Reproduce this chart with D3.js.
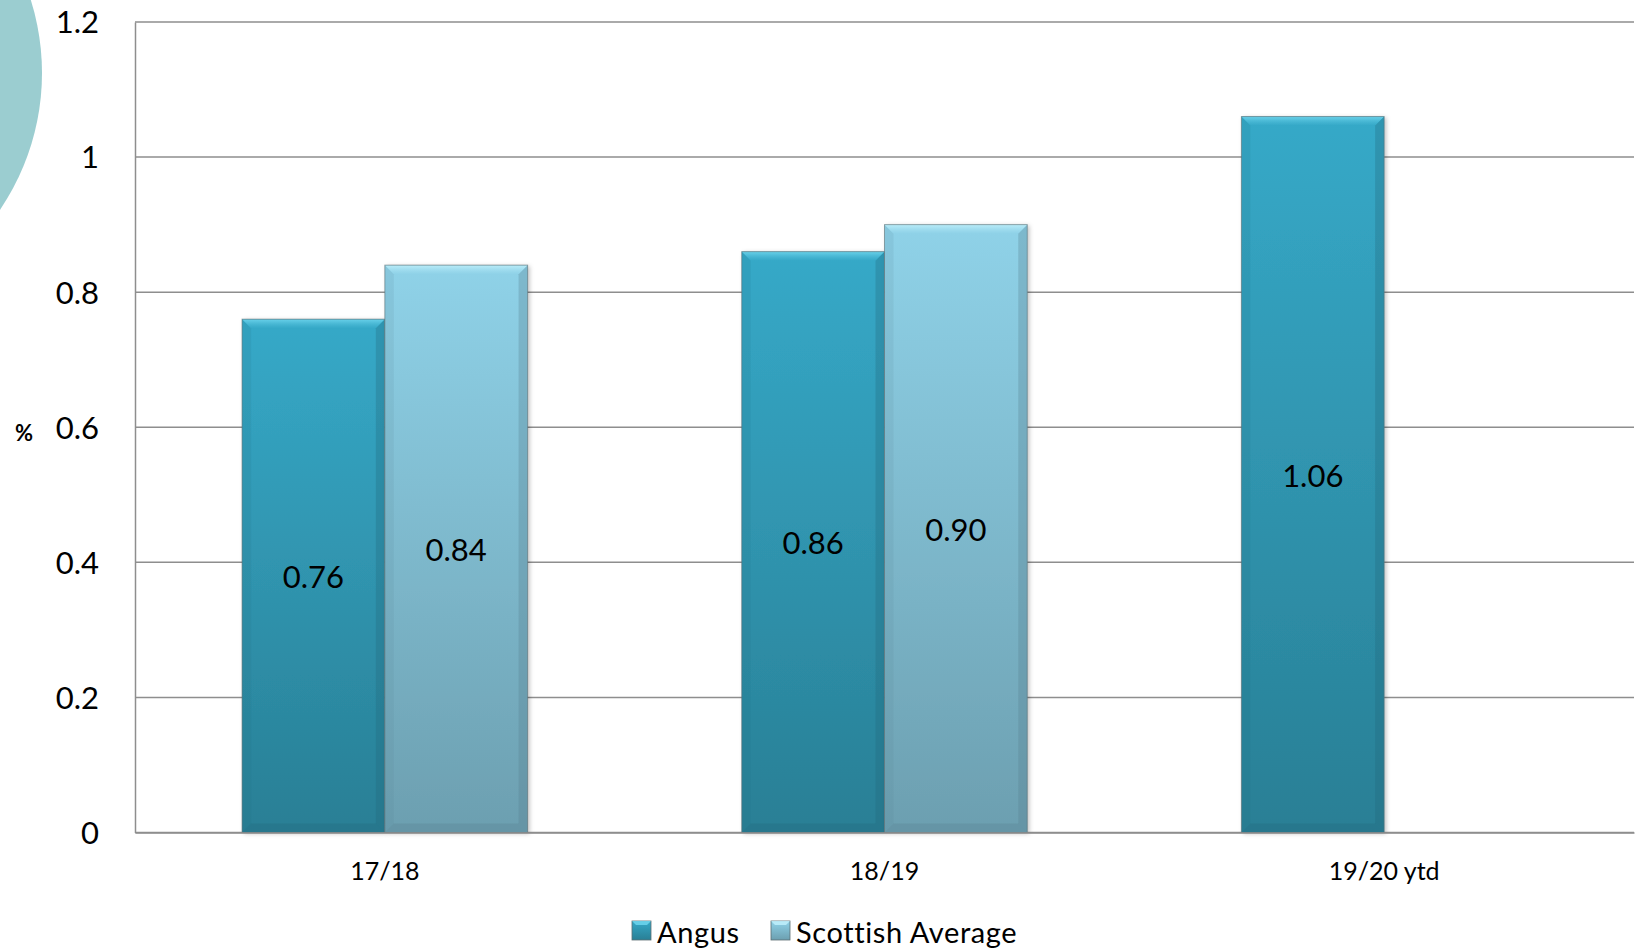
<!DOCTYPE html>
<html>
<head>
<meta charset="utf-8">
<script src="https://cdn.jsdelivr.net/npm/d3@7"></script>
<style>
  html, body { margin: 0; padding: 0; background: #ffffff; }
  svg { display: block; font-family: Lato, "Open Sans", sans-serif; }
</style>
</head>
<body>
<svg id="chart" width="1640" height="949"></svg>
<script>
const categories = ["17/18", "18/19", "19/20 ytd"];
const seriesNames = ["Angus", "Scottish Average"];
const angusValues = [0.76, 0.86, 1.06];
const scottishValues = [0.84, 0.90, null];
const yTicks = [0, 0.2, 0.4, 0.6, 0.8, 1, 1.2];
const yTickLabels = ["0", "0.2", "0.4", "0.6", "0.8", "1", "1.2"];
const labelTexts = [["0.76", "0.84"], ["0.86", "0.90"], ["1.06", null]];

const svg = d3.select("#chart");
const W = 1640, H = 949;
const margin = { left: 135, right: 6, top: 22, bottom: 116.5 };
const plotL = margin.left, plotR = W - margin.right;
const plotT = margin.top, plotB = H - margin.bottom;

// decorative circle at top-left
svg.append("circle").attr("cx", -202).attr("cy", 73).attr("r", 244).attr("fill", "#9bcdd0");

const x = d3.scaleBand().domain(categories).range([plotL, plotR]).paddingInner(0).paddingOuter(0);
const inner = d3.scaleBand().domain(seriesNames).range([0, x.bandwidth()]).paddingInner(0).paddingOuter(0.75);
const y = d3.scaleLinear().domain([0, 1.2]).range([plotB, plotT]);

const defs = svg.append("defs");
const grads = {
  "Angus": { top: "#36a9c8", bottom: "#297f95", bevel: "#6fd6ee", side: "#21687a" },
  "Scottish Average": { top: "#8fd2e8", bottom: "#6c9fb0", bevel: "#bff0fb", side: "#557f8d" }
};
Object.entries(grads).forEach(([k, c], i) => {
  const g = defs.append("linearGradient").attr("id", "g" + i).attr("x1", 0).attr("y1", 0).attr("x2", 0).attr("y2", 1);
  g.append("stop").attr("offset", "0%").attr("stop-color", c.top);
  g.append("stop").attr("offset", "100%").attr("stop-color", c.bottom);
  c.id = "g" + i;
  const b = defs.append("linearGradient").attr("id", "b" + i).attr("x1", 0).attr("y1", 0).attr("x2", 0).attr("y2", 1);
  b.append("stop").attr("offset", "0%").attr("stop-color", c.bevel).attr("stop-opacity", 1);
  b.append("stop").attr("offset", "100%").attr("stop-color", c.top).attr("stop-opacity", 0.6);
  c.bid = "b" + i;
});
const sh = defs.append("filter").attr("id", "shadow").attr("x", "-10%").attr("y", "-10%").attr("width", "130%").attr("height", "130%");
sh.append("feDropShadow").attr("dx", 2).attr("dy", 1).attr("stdDeviation", 2).attr("flood-color", "#000").attr("flood-opacity", 0.25);

// gridlines
const grid = svg.append("g");
grid.selectAll("line").data(yTicks).join("line")
  .attr("x1", plotL).attr("x2", plotR)
  .attr("y1", d => y(d)).attr("y2", d => y(d))
  .attr("stroke", "#8e8e8e").attr("stroke-width", 1.5);

// left axis
const yAxis = d3.axisLeft(y).tickValues(yTicks).tickSize(0).tickPadding(36)
  .tickFormat((d, i) => yTickLabels[i]);
const ya = svg.append("g").attr("transform", `translate(${plotL},0)`).call(yAxis);
ya.select(".domain").attr("stroke", "#8e8e8e").attr("stroke-width", 1.5);
ya.selectAll("text").attr("font-size", 31).attr("fill", "#000").attr("font-family", "Lato, sans-serif").attr("dy", "0.35em");

// y unit label
svg.append("text").attr("x", 24).attr("y", 432).attr("text-anchor", "middle").attr("dominant-baseline", "central")
  .attr("font-size", 22).attr("font-weight", "bold").attr("fill", "#000").text("%");

// bars
const data = [];
categories.forEach((c, i) => {
  [angusValues[i], scottishValues[i]].forEach((v, j) => {
    if (v !== null && v !== undefined) data.push({ cat: c, ser: seriesNames[j], v, label: labelTexts[i][j] });
  });
});

const bars = svg.append("g");
const bev = 9;
data.forEach(d => {
  const c = grads[d.ser];
  const x0 = x(d.cat) + inner(d.ser), w = inner.bandwidth();
  const y0 = y(d.v), y1 = y(0);
  const g = bars.append("g");
  g.append("rect").attr("x", x0).attr("y", y0).attr("width", w).attr("height", y1 - y0)
    .attr("fill", `url(#${c.id})`).attr("filter", "url(#shadow)");
  // top bevel
  g.append("polygon").attr("points", [[x0, y0], [x0 + w, y0], [x0 + w - bev, y0 + bev], [x0 + bev, y0 + bev]].join(" "))
    .attr("fill", `url(#${c.bid})`).attr("opacity", 0.9);
  // right bevel
  g.append("polygon").attr("points", [[x0 + w, y0], [x0 + w, y1], [x0 + w - bev, y1 - bev], [x0 + w - bev, y0 + bev]].join(" "))
    .attr("fill", c.side).attr("opacity", 0.3);
  // left bevel
  g.append("polygon").attr("points", [[x0, y0], [x0, y1], [x0 + bev, y1 - bev], [x0 + bev, y0 + bev]].join(" "))
    .attr("fill", c.side).attr("opacity", 0.12);
  // bottom bevel
  g.append("polygon").attr("points", [[x0, y1], [x0 + w, y1], [x0 + w - bev, y1 - bev], [x0 + bev, y1 - bev]].join(" "))
    .attr("fill", c.side).attr("opacity", 0.3);
  g.append("rect").attr("x", x0).attr("y", y0).attr("width", w).attr("height", y1 - y0)
    .attr("fill", "none").attr("stroke", "#5c6e73").attr("stroke-opacity", 0.6).attr("stroke-width", 1);
  // label
  g.append("text").attr("x", x0 + w / 2).attr("y", (y0 + y1) / 2)
    .attr("text-anchor", "middle").attr("dominant-baseline", "central")
    .attr("font-size", 31).attr("fill", "#000").text(d.label);
});

// bottom axis
const xAxis = d3.axisBottom(x).tickSize(0).tickPadding(30);
const xa = svg.append("g").attr("transform", `translate(0,${plotB})`).call(xAxis);
xa.select(".domain").attr("stroke", "#8e8e8e").attr("stroke-width", 1.5);
xa.selectAll("text").attr("font-size", 25).attr("fill", "#000").attr("font-family", "Lato, sans-serif");

// legend
const legend = svg.append("g");
const legItems = [
  { name: seriesNames[0], x: 632, c: grads["Angus"] },
  { name: seriesNames[1], x: 771, c: grads["Scottish Average"] }
];
legItems.forEach(it => {
  const g = legend.append("g").attr("transform", `translate(${it.x},921)`);
  g.append("rect").attr("width", 19).attr("height", 19).attr("fill", `url(#${it.c.id})`)
    .attr("stroke", "#5c6e73").attr("stroke-width", 0.8);
  g.append("polygon").attr("points", "0,0 19,0 15,4 4,4").attr("fill", it.c.bevel).attr("opacity", 0.85);
  g.append("text").attr("x", 25).attr("y", 10).attr("dominant-baseline", "central")
    .attr("font-size", 29).attr("letter-spacing", 0.6).attr("fill", "#000").text(it.name);
});
</script>
</body>
</html>
